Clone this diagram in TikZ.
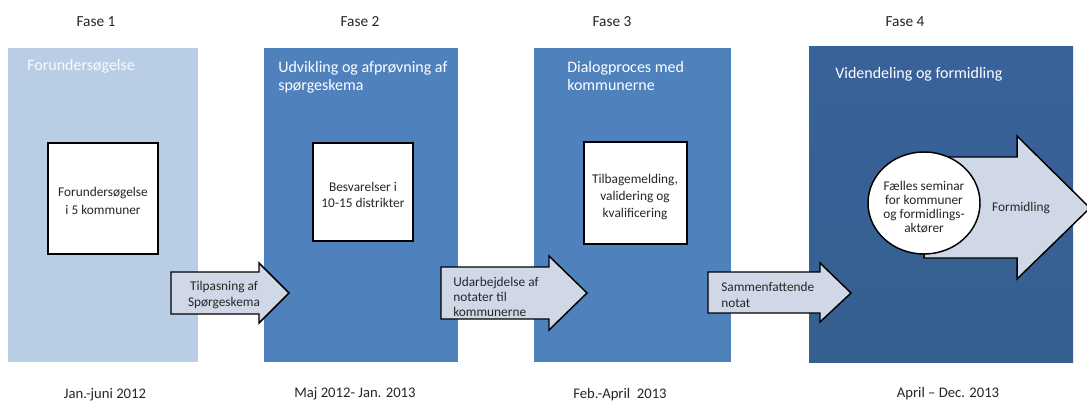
\documentclass[tikz,border=0pt]{standalone}
\usepackage{fontspec}
\setmainfont{Carlito}
\begin{document}
\begin{tikzpicture}[x=0.75pt,y=-0.75pt,
  panel/.style={draw=none,inner sep=0pt,outer sep=0pt},
  whitebox/.style={draw=black,line width=1.1pt,fill=white},
  flowarrow/.style={draw=black,line width=1.1pt,fill=arrowfill,line join=miter},
  phase/.style={font=\fontsize{11.5}{14}\selectfont,text=black!85},
  period/.style={font=\fontsize{11}{13}\selectfont,text=black!85},
  paneltitle/.style={font=\fontsize{12}{13.5}\selectfont,text=white,align=left,anchor=north west,inner sep=0pt},
  boxtext/.style={font=\fontsize{10}{12.5}\selectfont,text=black!85,align=center},
  arrowtext/.style={font=\fontsize{10}{11.5}\selectfont,text=black!85}]
\definecolor{paleblue}{HTML}{B9CDE5}
\definecolor{midblue}{HTML}{4F81BD}
\definecolor{deepblue}{HTML}{38629A}
\definecolor{deepblue2}{HTML}{35608F}
\definecolor{arrowfill}{HTML}{D0D8E8}
\useasboundingbox (0,0) rectangle (1087,403);
\fill[white] (0,0) rectangle (1087,403);

% phase panels
\fill[paleblue] (8,48) rectangle (198,362);
\fill[midblue] (264,48) rectangle (458,362);
\fill[midblue] (534,48) rectangle (731,362);
\shade[top color=deepblue,bottom color=deepblue2] (809,47) rectangle (1073,362);

% phase headings
\node[phase] (f1) at (96,22) {Fase 1};
\node[phase] (f2) at (360,22) {Fase 2};
\node[phase] (f3) at (612,22) {Fase 3};
\node[phase] (f4) at (905,22) {Fase 4};

% periods
\node[period] (d1) at (105,395) {Jan.-juni 2012};
\node[period] (d2) at (355,394) {Maj 2012- Jan. 2013};
\node[period] (d3) at (620,395) {Feb.-April\ \ 2013};
\node[period] (d4) at (948,394) {April – Dec. 2013};

% panel titles
\node[paneltitle,text=white!92!paleblue] (t1) at (27,59) {Forundersøgelse};
\node[paneltitle] (t2) at (278,61) {Udvikling og afprøvning af\\spørgeskema};
\node[paneltitle] (t3) at (567,61) {Dialogproces med\\kommunerne};
\node[paneltitle] (t4) at (835,67) {Videndeling og formidling};

% activity boxes
\draw[whitebox] (48,143) rectangle (158,254);
\node[boxtext,font=\fontsize{10}{14}\selectfont] (b1) at (103,201) {Forundersøgelse\\i 5 kommuner};
\draw[whitebox] (313,143) rectangle (413,241);
\node[boxtext] (b2) at (363,195) {Besvarelser i\\10-15 distrikter};
\draw[whitebox] (584,142) rectangle (687,244);
\node[boxtext] (b3) at (635,197) {Tilbagemelding,\\validering og\\kvalificering};

% transition arrows
\draw[flowarrow] (171,272) -- (259,272) -- (259,263) -- (289,293) -- (259,323) -- (259,314) -- (171,314) -- cycle;
\node[arrowtext,align=center] (a1) at (224,295) {Tilpasning af\\Spørgeskema};
\draw[flowarrow] (441,267) -- (549,267) -- (549,256) -- (587,293) -- (549,330) -- (549,319) -- (441,319) -- cycle;
\node[arrowtext,align=left,anchor=west,inner sep=0pt] (a2) at (453,297) {Udarbejdelse af\\notater til\\kommunerne};
\draw[flowarrow] (708,272) -- (820,272) -- (820,263) -- (851,293) -- (820,322) -- (820,313) -- (708,313) -- cycle;
\node[arrowtext,align=left,anchor=west,inner sep=0pt] (a3) at (721,295) {Sammenfattende\\notat};

% dissemination arrow with seminar circle
\draw[flowarrow] (924,157) -- (1017,157) -- (1017,136) -- (1090,208) -- (1017,279) -- (1017,258) -- (924,258) -- cycle;
\node[arrowtext] (a4) at (1021,208) {Formidling};
\draw[whitebox] (924,203) ellipse [x radius=56,y radius=51];
\node[boxtext,font=\fontsize{10}{10.5}\selectfont] (c4) at (924,207) {Fælles seminar\\for kommuner\\og formidlings-\\aktører};
\end{tikzpicture}
\end{document}
